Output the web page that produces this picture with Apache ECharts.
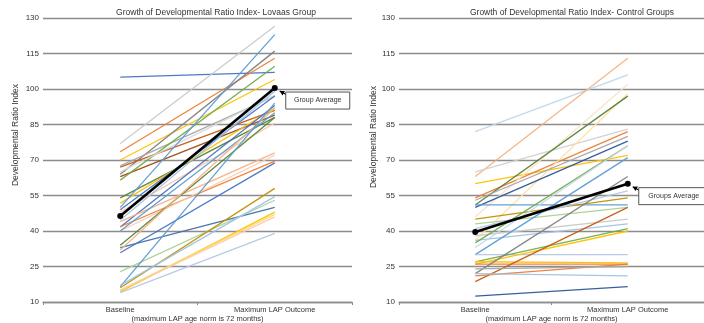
<!DOCTYPE html>
<html>
<head>
<meta charset="utf-8">
<script src="https://cdn.jsdelivr.net/npm/echarts@6/dist/echarts.min.js"></script>
<style>html,body{margin:0;padding:0;background:#fff;}#c{width:704px;height:323px;}</style>
</head>
<body>
<div id="c"></div>
<script>
// ---------- data ----------
const categories = ['Baseline', 'Maximum LAP Outcome'];
const yTicks = [10, 25, 40, 55, 70, 85, 100, 115, 130];

const lovaasBaseline = [105, 77, 73.5, 70, 64, 67, 67.5, 63, 61.5, 65, 54, 51.8, 50, 49, 48, 44.6, 41.7, 41.8, 44, 40, 40, 34, 33, 30.8, 32, 22.8, 16.5, 16, 14.4, 15, 14, 17, 15];
const lovaasOutcome  = [107, 126.5, 113, 104, 116, 91, 97, 89, 109.6, 97.3, 88, 92, 123, 97, 85.6, 99, 93, 69.5, 73, 72, 90, 88, 50, 68.8, 92, 53, 94, 58, 48, 47, 39, 54.5, 46];
const lovaasAverage  = [46.3, 100.4];

const controlBaseline = [82, 63, 65, 60, 54, 46, 36, 51, 50, 51, 53, 45, 43, 41, 38, 36, 30, 35, 30, 26, 27, 26, 27, 22, 18.6, 21, 22, 12.5, 24, 33];
const controlOutcome  = [106, 113, 83, 72, 82, 102, 98, 97, 78, 51, 80, 54, 50, 57, 45, 43, 71, 76, 30, 40, 41, 26, 26.5, 63, 50, 26, 21, 16.5, 25, 76];
const controlAverage  = [39.6, 60];

// ---------- styles ----------
const lovaasColors = ['#4472c4','#c9c9c9','#ed7d31','#ffc000','#7f7f7f','#c55a11','#a5a5a5','#9e480e','#70ad47','#d9d9d9','#548235','#ffc000','#5b9bd5','#4472c4','#f8cbad','#9dc3e6','#4472c4','#ed7d31','#f4b183','#f8cbad','#5b9bd5','#548235','#3f6fa8','#4472c4','#f4b183','#a9d18e','#5b9bd5','#bf9000','#ffc000','#ffd966','#b4c7e7','#9dc3e6','#f8cbad'];
const controlColors = ['#bdd7ee','#f4b183','#d0d0d0','#ffc000','#ed7d31','#fbe0c8','#ffe0a0','#548235','#2f5597','#5b9bd5','#a5a5a5','#bf9000','#a9d18e','#b4c7e7','#c9c9c9','#9dc3e6','#5b9bd5','#70ad47','#b4c7e7','#ffc000','#70ad47','#ed7d31','#ffc000','#7f7f7f','#c55a11','#ed7d31','#9dc3e6','#2f5597','#a5a5a5','#c5d5ee'];

const FONT = 'Liberation Sans';
const TXT = '#333';
const GRIDC = '#8c8c8c';

function mkSeries(base, out, colors, idx) {
  return base.map((b, i) => ({
    type: 'line', xAxisIndex: idx, yAxisIndex: idx,
    data: [b, out[i]], symbol: 'none', silent: true,
    lineStyle: { color: colors[i], width: 1.3, opacity: 0.95 },
    z: 2
  }));
}

function mkAxes(idx) {
  return {
    x: {
      type: 'category', gridIndex: idx, data: categories, boundaryGap: true,
      axisLine: { lineStyle: { color: GRIDC, width: 1.3 } },
      axisTick: { show: true, length: 3, lineStyle: { color: GRIDC } },
      axisLabel: { fontSize: 7.5, color: TXT, fontFamily: FONT, margin: 4 },
      name: '(maximum LAP age norm is 72 months)', nameLocation: 'middle', nameGap: 17,
      nameMoveOverlap: false,
      nameTextStyle: { fontSize: 7.5, color: TXT, fontFamily: FONT, verticalAlign: 'middle' }
    },
    y: {
      type: 'value', gridIndex: idx, min: yTicks[0], max: yTicks[yTicks.length - 1], interval: 15,
      axisLine: { show: false }, axisTick: { show: false },
      axisLabel: { fontSize: 8, color: TXT, fontFamily: FONT, margin: 4 },
      splitLine: { lineStyle: { color: GRIDC, width: 1.3 } }
    }
  };
}

const a0 = mkAxes(0), a1 = mkAxes(1);

const option = {
  animation: false,
  backgroundColor: '#fff',
  title: [
    { text: 'Growth of Developmental Ratio Index- Lovaas Group', left: 211, top: 3, textAlign: 'center',
      textStyle: { fontSize: 8.5, fontWeight: 'normal', color: TXT, fontFamily: FONT } },
    { text: 'Growth of Developmental Ratio Index- Control Groups', left: 567, top: 3, textAlign: 'center',
      textStyle: { fontSize: 8.5, fontWeight: 'normal', color: TXT, fontFamily: FONT } }
  ],
  grid: [
    { left: 43, right: 352, top: 18, bottom: 21, containLabel: false, outerBoundsMode: 'none' },
    { left: 399, right: 0, top: 18, bottom: 21, containLabel: false, outerBoundsMode: 'none' }
  ],
  xAxis: [a0.x, a1.x],
  yAxis: [a0.y, a1.y],
  series: [
    ...mkSeries(lovaasBaseline, lovaasOutcome, lovaasColors, 0),
    ...mkSeries(controlBaseline, controlOutcome, controlColors, 1),
    { type: 'line', xAxisIndex: 0, yAxisIndex: 0, data: lovaasAverage, symbol: 'circle', symbolSize: 6,
      itemStyle: { color: '#000' }, lineStyle: { color: '#000', width: 2.6 }, z: 5, silent: true },
    { type: 'line', xAxisIndex: 1, yAxisIndex: 1, data: controlAverage, symbol: 'circle', symbolSize: 6,
      itemStyle: { color: '#000' }, lineStyle: { color: '#000', width: 2.6 }, z: 5, silent: true }
  ],
  graphic: [
    { type: 'text', x: 16, y: 135, rotation: Math.PI / 2,
      style: { text: 'Developmental Ratio Index', fontSize: 8.5, fill: TXT, fontFamily: FONT, textAlign: 'center', textVerticalAlign: 'middle' } },
    { type: 'text', x: 374, y: 137, rotation: Math.PI / 2,
      style: { text: 'Developmental Ratio Index', fontSize: 8.5, fill: TXT, fontFamily: FONT, textAlign: 'center', textVerticalAlign: 'middle' } }
  ]
};

const chart = echarts.init(document.getElementById('c'), null, { renderer: 'canvas' });
chart.setOption(option);

// annotation callouts placed relative to the average points
function callout(gridIndex, value, label, boxW) {
  const p = chart.convertToPixel({ gridIndex: gridIndex }, [1, value]);
  const tip = [p[0] + 5, p[1] + 3];
  const tail = [p[0] + 14, p[1] + 8];
  const ang = Math.atan2(tip[1] - tail[1], tip[0] - tail[0]);
  const L = 4.5, W = 2.6;
  const b1 = [tip[0] - L * Math.cos(ang) + W * Math.sin(ang), tip[1] - L * Math.sin(ang) - W * Math.cos(ang)];
  const b2 = [tip[0] - L * Math.cos(ang) - W * Math.sin(ang), tip[1] - L * Math.sin(ang) + W * Math.cos(ang)];
  const bx = p[0] + 11, by = p[1] + 4;
  return [
    { type: 'line', shape: { x1: tail[0], y1: tail[1], x2: tip[0], y2: tip[1] }, style: { stroke: '#000', lineWidth: 1.2 }, z: 10 },
    { type: 'polygon', shape: { points: [tip, b1, b2] }, style: { fill: '#000' }, z: 10 },
    { type: 'rect', shape: { x: bx, y: by, width: boxW, height: 17 }, style: { fill: '#fff', stroke: '#555', lineWidth: 1 }, z: 10 },
    { type: 'text', x: bx + boxW / 2, y: by + 8.5, style: { text: label, fontSize: 7, fill: TXT, fontFamily: FONT, textAlign: 'center', textVerticalAlign: 'middle' }, z: 11 }
  ];
}
const extra = [
  ...callout(0, lovaasAverage[1], 'Group Average', 64),
  ...callout(1, controlAverage[1], 'Groups Average', 70)
];
chart.setOption({ graphic: option.graphic.concat(extra) });
</script>
</body>
</html>
